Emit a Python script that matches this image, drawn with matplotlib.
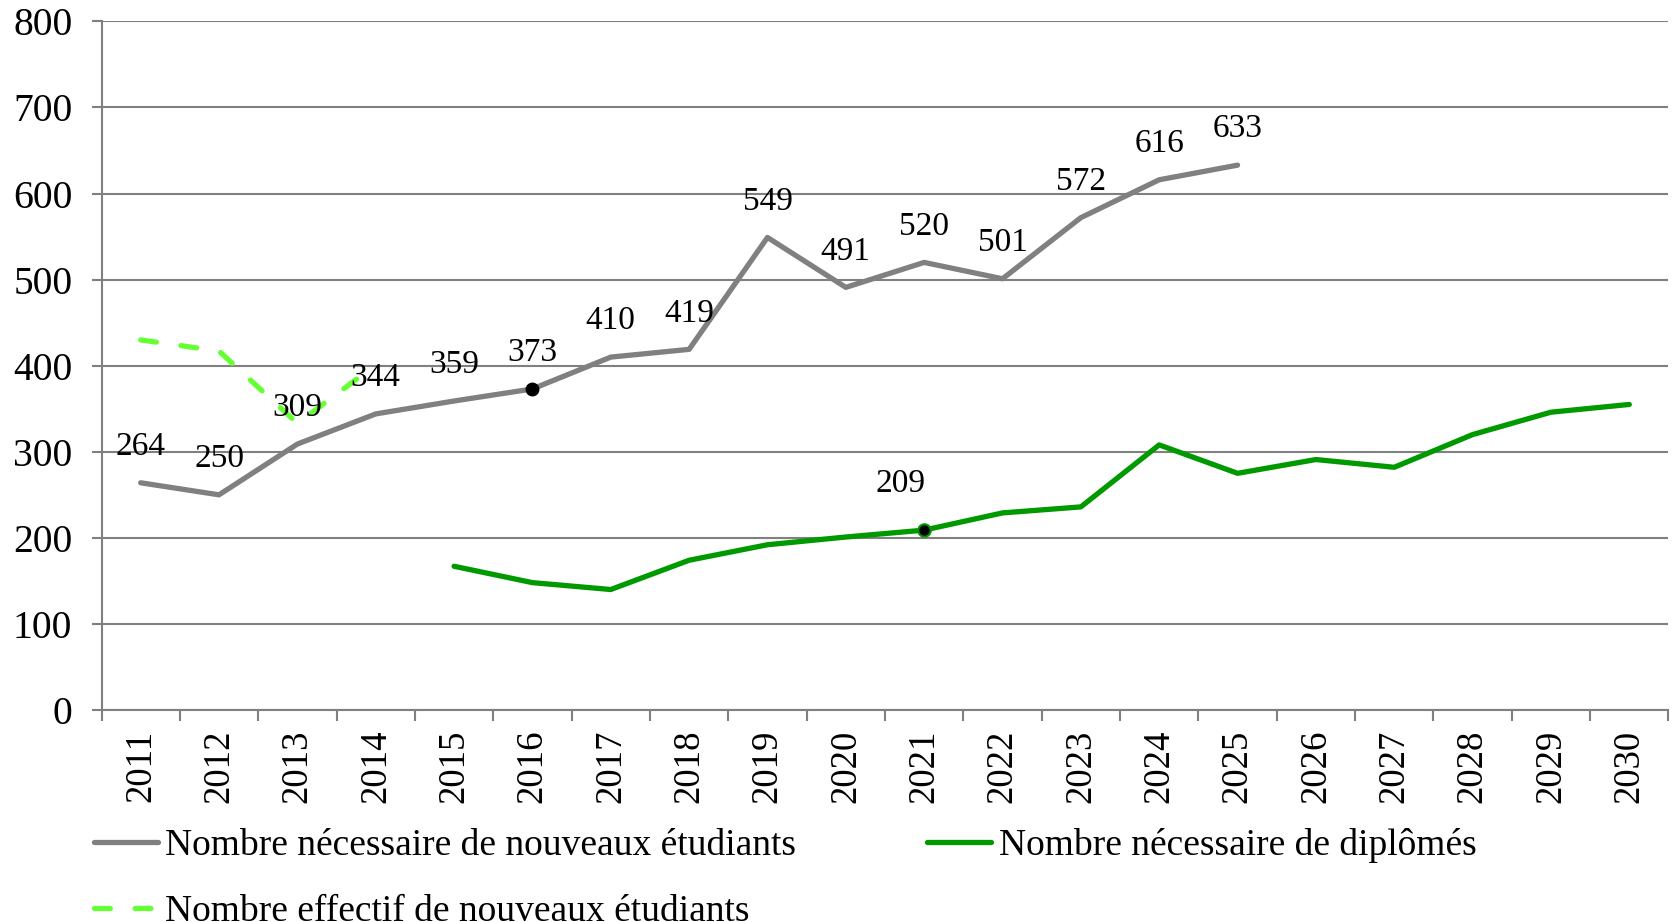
import numpy as np
import matplotlib.pyplot as plt

years = [str(y) for y in range(2011, 2031)]

# Nombre nécessaire de nouveaux étudiants (2011-2025)
nouveaux = [264, 250, 309, 344, 359, 373, 410, 419, 549, 491, 520, 501, 572, 616, 633]
# Nombre effectif de nouveaux étudiants (2011-2014)
effectif = [430, 417, 333, 401]
# Nombre nécessaire de diplômés (2015-2030)
diplomes = [167, 148, 140, 174, 192, 201, 209, 229, 236, 308, 275, 291, 282, 320, 346, 355]

plt.rcParams['font.family'] = ['Liberation Serif', 'DejaVu Serif']

fig = plt.figure(figsize=(16.75, 9.22), dpi=100)
ax = fig.add_axes([0.0606, 0.2299, 0.9355, 0.7469])

x = np.arange(len(years))
x_nouv = x[:len(nouveaux)]
x_eff = x[:len(effectif)]
x_dip = x[4:4 + len(diplomes)]

gris = '#808080'
vert = '#009900'
vert_clair = '#66ff33'

l1, = ax.plot(x_nouv, nouveaux, color=gris, lw=3.8, solid_capstyle='round',
              label='Nombre nécessaire de nouveaux étudiants', zorder=3)
l2, = ax.plot(x_eff, effectif, color=vert_clair, lw=3.8, dashes=(3.0, 4.7),
              dash_capstyle='round',
              label='Nombre effectif de nouveaux étudiants', zorder=3)
l3, = ax.plot(x_dip, diplomes, color=vert, lw=3.8, solid_capstyle='round',
              label='Nombre nécessaire de diplômés', zorder=3)

# points mis en évidence
ax.plot(x_nouv[5], nouveaux[5], 'o', color='black', ms=9, zorder=4)
ax.plot(x_dip[6], diplomes[6], 'o', color='black', mec=vert, mew=1.5, ms=9, zorder=4)

for xi, v in zip(x_nouv, nouveaux):
    ax.annotate(str(v), (xi, v), xytext=(0, 36), textcoords='offset pixels',
                ha='center', va='center', fontsize=24, zorder=5)
ax.annotate(str(diplomes[6]), (x_dip[6], diplomes[6]), xytext=(-24, 46),
            textcoords='offset pixels', ha='center', va='center', fontsize=24)

ax.set_xlim(-0.5, len(years) - 0.5)
ax.set_ylim(0, 800)
ax.set_yticks(range(0, 801, 100))
ax.yaxis.grid(True, color=gris, lw=1.5)
ax.set_axisbelow(True)

ax.set_xticks(np.arange(-0.5, len(years), 1.0))
ax.set_xticklabels([])
ax.set_xticks(x, minor=True)
ax.set_xticklabels(years, minor=True, rotation=90, fontsize=26.5)
ax.tick_params(axis='x', which='major', length=8, width=1.5, color=gris)
ax.tick_params(axis='x', which='minor', length=0, pad=14)
ax.tick_params(axis='y', length=7, width=1.5, color=gris, labelsize=28.5, pad=14)

for s in ['top', 'right']:
    ax.spines[s].set_visible(False)
for s in ['left', 'bottom']:
    ax.spines[s].set_color(gris)
    ax.spines[s].set_linewidth(1.5)

fig.legend(handles=[l1, l2, l3], ncol=2, loc='upper left',
           bbox_to_anchor=(0.056, 0.102), frameon=False, fontsize=27,
           handlelength=1.7, handletextpad=0.2, columnspacing=3.5,
           labelspacing=0.85, borderpad=0, borderaxespad=0)

fig.savefig('out.png', dpi=100)
